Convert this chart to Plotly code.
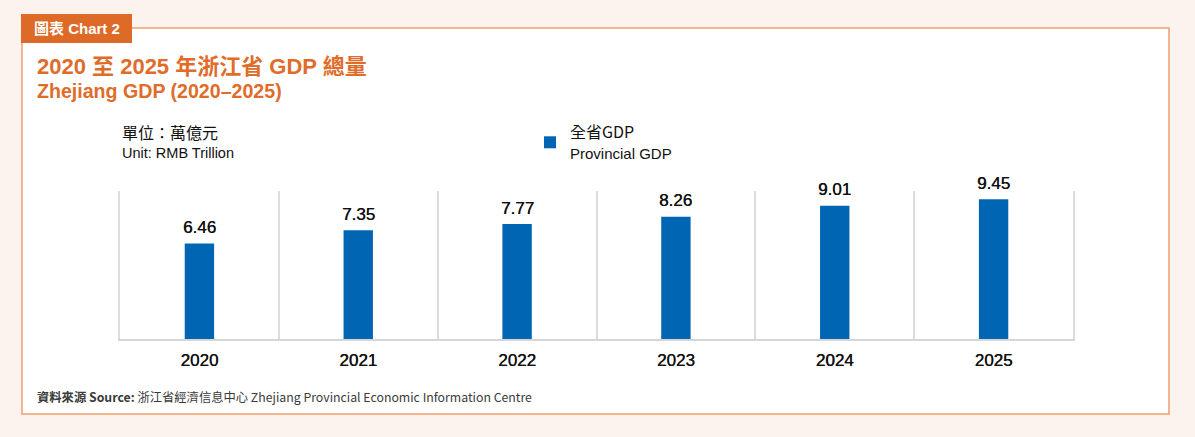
import plotly.graph_objects as go

# ---- data ----
years = ["2020", "2021", "2022", "2023", "2024", "2025"]
gdp_trillion = [6.46, 7.35, 7.77, 8.26, 9.01, 9.45]
series_name = "全省GDP"
series_name_en = "Provincial GDP"

# ---- layout geometry (pixels) ----
W, H = 1195, 437
ML, MR, MT, MB = 120, 122, 191, 98
PW, PH = W - ML - MR, H - MT - MB


def px(x):
    return (x - ML) / PW


def py(y):
    return (H - MB - y) / PH


ORANGE = "#E06C2A"
TAG = "#DE6A27"
BORDER = "#EE9E6E"
BLUE = "#0066B3"
LAT = "Liberation Sans, Arial, Noto Sans CJK TC, sans-serif"
CJK = "Noto Sans CJK TC, Liberation Sans, sans-serif"
SHADOW = "0.4px 0 0 #111111"

fig = go.Figure()
fig.add_trace(go.Bar(
    x=years,
    y=gdp_trillion,
    name=series_name + "<br><span style='font-family:Liberation Sans, Arial;font-size:15px'>" + series_name_en + "</span>",
    marker=dict(color=BLUE, line=dict(width=0)),
    width=0.185,
    hoverinfo="skip",
))

# value labels anchored to each bar top through the data axes (category index on x)
value_labels = [
    dict(x=i, y=v, xref="x", yref="y", text=f"{v:.2f}", showarrow=False,
         xanchor="center", yanchor="middle", yshift=16,
         font=dict(family=LAT, size=17, color="#111111", shadow=SHADOW))
    for i, v in enumerate(gdp_trillion)
]

fig.update_layout(
    width=W, height=H, autosize=False,
    margin=dict(l=ML, r=MR, t=MT, b=MB),
    paper_bgcolor="#FCF3EE",
    plot_bgcolor="rgba(0,0,0,0)",
    showlegend=True,
    legend=dict(
        x=px(530), y=py(115), xanchor="left", yanchor="top",
        font=dict(family=CJK, size=16, color="#111111"),
        bgcolor="rgba(0,0,0,0)", borderwidth=0,
        itemclick=False, itemdoubleclick=False,
    ),
    xaxis=dict(
        type="category",
        categoryorder="array", categoryarray=years,
        range=[-0.5, len(years) - 0.5],
        tickson="boundaries",
        showgrid=True, gridcolor="#DCDCDC", gridwidth=2,
        showline=True, linecolor="#D6D6D6", linewidth=2,
        ticks="", ticklen=0, ticklabelstandoff=5,
        tickfont=dict(family=LAT, size=17, color="#111111", shadow=SHADOW),
        fixedrange=True,
    ),
    yaxis=dict(
        range=[0, 10],
        showgrid=False, zeroline=False, showticklabels=False,
        showline=True, linecolor="#DCDCDC", linewidth=2,
        fixedrange=True,
    ),
    yaxis2=dict(
        range=[0, 10], overlaying="y", side="right",
        showgrid=False, zeroline=False, showticklabels=False,
        showline=True, linecolor="#DCDCDC", linewidth=2,
        fixedrange=True,
    ),
    shapes=[
        dict(type="rect", xref="paper", yref="paper",
             x0=px(22), x1=px(1169), y0=py(414), y1=py(28),
             fillcolor="white", line=dict(color=BORDER, width=1.5), layer="below"),
        dict(type="rect", xref="paper", yref="paper",
             x0=px(21), x1=px(132), y0=py(43), y1=py(14),
             fillcolor=TAG, line=dict(width=0), layer="below"),
    ],
    annotations=value_labels + [
        dict(text="<b>圖表 Chart 2</b>", x=px(76.5), y=py(29), xref="paper", yref="paper",
             xanchor="center", yanchor="middle", showarrow=False,
             font=dict(family=LAT, size=15, color="white")),
        dict(text="<b>2020 至 2025 年浙江省 GDP 總量</b>", x=px(35), y=py(67), xref="paper", yref="paper",
             xanchor="left", yanchor="middle", showarrow=False,
             font=dict(family=LAT, size=22, color=ORANGE)),
        dict(text="<b>Zhejiang GDP (2020–2025)</b>", x=px(35), y=py(91), xref="paper", yref="paper",
             xanchor="left", yanchor="middle", showarrow=False,
             font=dict(family=LAT, size=19.6, color=ORANGE)),
        dict(text="單位∶萬億元", x=px(120), y=py(132), xref="paper", yref="paper",
             xanchor="left", yanchor="middle", showarrow=False,
             font=dict(family=CJK, size=16, color="#111111")),
        dict(text="Unit: RMB Trillion", x=px(120), y=py(153), xref="paper", yref="paper",
             xanchor="left", yanchor="middle", showarrow=False,
             font=dict(family=LAT, size=14.5, color="#111111")),
        dict(text="<b>資料來源 Source:</b> 浙江省經濟信息中心 Zhejiang Provincial Economic Information Centre",
             x=px(35), y=py(397), xref="paper", yref="paper",
             xanchor="left", yanchor="middle", showarrow=False,
             font=dict(family=CJK, size=12.3, color="#3A3A3A")),
    ],
)

# invisible trace to activate the right-hand frame line
fig.add_trace(go.Scatter(x=years, y=[None] * len(years), yaxis="y2",
                         showlegend=False, hoverinfo="skip"))

fig.write_html(
    "out.html",
    config={"displayModeBar": False},
    post_script="document.body.style.margin='0';document.body.style.overflow='hidden';",
)
